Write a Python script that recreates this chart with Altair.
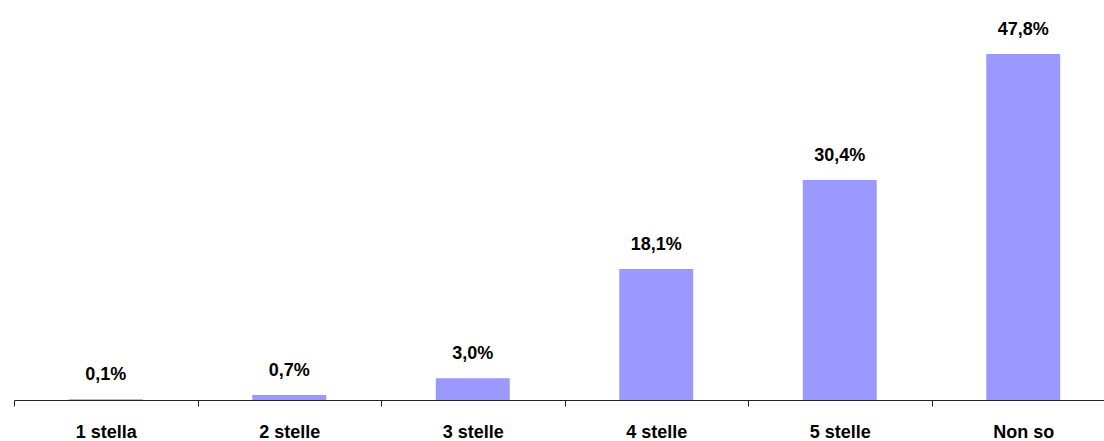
import altair as alt
import pandas as pd

# Star ratings and their share of answers (%)
categories = ["1 stella", "2 stelle", "3 stelle", "4 stelle", "5 stelle", "Non so"]
values = [0.1, 0.7, 3.0, 18.1, 30.4, 47.8]

df = pd.DataFrame({"cat": categories, "val": values})
df["label"] = [f"{v:.1f}".replace(".", ",") + "%" for v in values]

FONT = "Liberation Sans"

x = alt.X(
    "cat:N",
    sort=categories,
    scale=alt.Scale(range=[0, 1101], paddingInner=0, paddingOuter=0),
    axis=alt.Axis(
        title=None,
        labelAngle=0,
        labelFont=FONT,
        labelFontSize=18,
        labelFontWeight="bold",
        labelColor="black",
        labelBaseline="alphabetic",
        labelPadding=31,
        tickBand="extent",
        tickSize=6,
        tickColor="#222222",
        domainColor="#222222",
        domainWidth=1,
        grid=False,
    ),
)
y = alt.Y("val:Q", scale=alt.Scale(domain=[0, 50]), axis=None)

bars = alt.Chart(df).mark_bar(
    color="#9999FF", width=alt.RelativeBandSize(0.403)
).encode(x=x, y=y)

labels = alt.Chart(df).mark_text(
    font=FONT, fontSize=18, fontWeight="bold", color="black",
    baseline="alphabetic", dy=-19,
).encode(x=x, y=y, text="label:N")

chart = (
    alt.layer(bars, labels)
    .properties(
        width=1090,
        height=362,
        background="white",
        autosize=alt.AutoSizeParams(type="none"),
        padding={"left": 14, "top": 38, "right": 0, "bottom": 41},
    )
    .configure_view(strokeWidth=0, stroke=None)
)

chart.save("out.html", embed_options={"renderer": "svg", "actions": False})
